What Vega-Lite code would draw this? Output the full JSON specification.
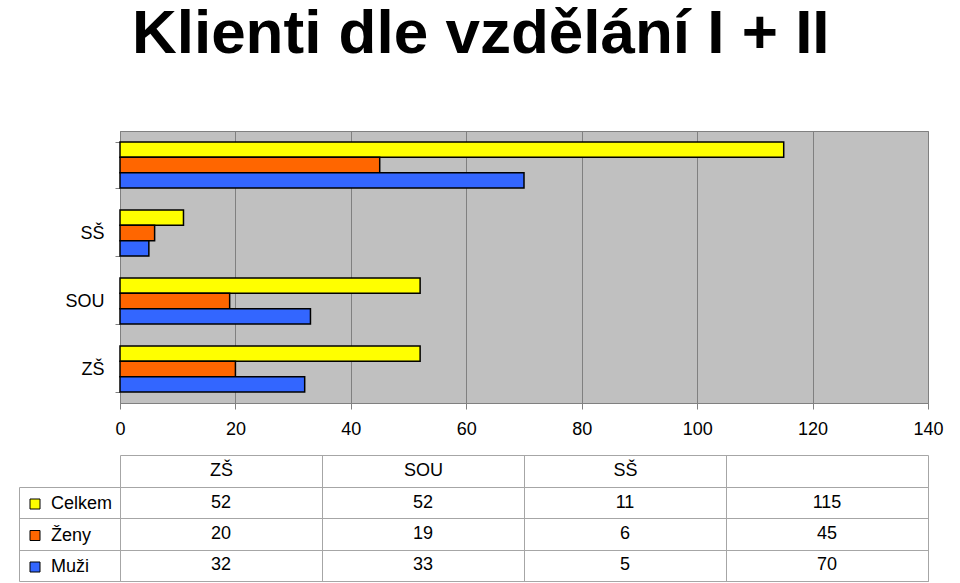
{
  "$schema": "https://vega.github.io/schema/vega-lite/v6.json",
  "padding": {"left": 18, "top": 2, "right": 0, "bottom": 0},
  "background": "#ffffff",
  "title": {"text": "Klienti dle vzdělání I + II", "fontSize": 62, "font": "Liberation Sans", "fontWeight": "bold", "color": "#000000", "anchor": "middle", "offset": 53, "dy": -3},
  "config": {"font": "Liberation Sans", "view": {"stroke": null}},
  "data": {"values": [
    {"skupina": "ZŠ", "pohlavi": "Celkem", "pocet": 52},
    {"skupina": "ZŠ", "pohlavi": "Ženy", "pocet": 20},
    {"skupina": "ZŠ", "pohlavi": "Muži", "pocet": 32},
    {"skupina": "SOU", "pohlavi": "Celkem", "pocet": 52},
    {"skupina": "SOU", "pohlavi": "Ženy", "pocet": 19},
    {"skupina": "SOU", "pohlavi": "Muži", "pocet": 33},
    {"skupina": "SŠ", "pohlavi": "Celkem", "pocet": 11},
    {"skupina": "SŠ", "pohlavi": "Ženy", "pocet": 6},
    {"skupina": "SŠ", "pohlavi": "Muži", "pocet": 5},
    {"skupina": "celkem", "pohlavi": "Celkem", "pocet": 115},
    {"skupina": "celkem", "pohlavi": "Ženy", "pocet": 45},
    {"skupina": "celkem", "pohlavi": "Muži", "pocet": 70}
  ]},
  "bounds": "flush",
  "spacing": 84,
  "resolve": {"legend": {"color": "independent"}},
  "vconcat": [
    {
      "width": 808,
      "height": 272,
      "view": {"fill": "#C0C0C0", "stroke": "#808080"},
      "mark": {"type": "bar", "stroke": "#000000", "strokeWidth": 1.5},
      "encoding": {
        "y": {"field": "skupina", "type": "nominal", "sort": ["celkem", "SŠ", "SOU", "ZŠ"],
          "scale": {"paddingInner": 0.32, "paddingOuter": 0.16},
          "axis": {"title": null, "labelExpr": "datum.value === 'celkem' ? '' : datum.value", "labelFontSize": 18, "labelColor": "#000000", "labelPadding": 11, "tickBand": "extent", "tickSize": 5, "tickColor": "#808080", "domainColor": "#808080", "grid": false}},
        "yOffset": {"field": "pohlavi", "type": "nominal", "sort": ["Celkem", "Ženy", "Muži"], "scale": {"paddingInner": 0, "paddingOuter": 0}},
        "x": {"field": "pocet", "type": "quantitative", "scale": {"domain": [0, 140], "nice": false},
          "axis": {"title": null, "values": [0, 20, 40, 60, 80, 100, 120, 140], "grid": true, "gridColor": "#808080", "gridOpacity": 1, "labelFontSize": 18, "labelColor": "#000000", "labelFlush": false, "tickColor": "#808080", "tickSize": 6, "domainColor": "#808080", "labelPadding": 11}},
        "color": {"field": "pohlavi", "type": "nominal",
          "scale": {"domain": ["Celkem", "Ženy", "Muži"], "range": ["#FFFF00", "#FF6600", "#3366FF"]},
          "legend": {"orient": "none", "legendX": -94, "legendY": 364, "title": null, "symbolType": "square", "symbolSize": 100, "symbolStrokeColor": "#000000", "symbolStrokeWidth": 1, "symbolOpacity": 1, "labelFontSize": 18, "labelColor": "#000000", "labelOffset": 7, "rowPadding": 13.5, "padding": 0}}
      }
    },
    {
      "width": 808,
      "height": 94,
      "view": {"fill": "#ffffff", "stroke": "#A6A6A6"},
      "mark": {"type": "text", "fontSize": 18, "color": "#000000"},
      "encoding": {
        "x": {"field": "skupina", "type": "nominal", "sort": ["ZŠ", "SOU", "SŠ", "celkem"],
          "scale": {"type": "band", "paddingInner": 0, "paddingOuter": 0},
          "axis": {"orient": "top", "title": null, "labelExpr": "datum.value === 'celkem' ? '' : datum.value", "labelAngle": 0, "labelFontSize": 18, "labelColor": "#000000", "labelBaseline": "middle", "offset": 32, "tickSize": -32, "labelPadding": 17, "tickBand": "extent", "tickColor": "#A6A6A6", "domainColor": "#A6A6A6", "grid": true, "gridColor": "#A6A6A6", "gridOpacity": 1}},
        "y": {"field": "pohlavi", "type": "nominal", "sort": ["Celkem", "Ženy", "Muži"],
          "scale": {"type": "band", "paddingInner": 0, "paddingOuter": 0},
          "axis": {"title": null, "labels": false, "offset": 101, "tickSize": -101, "tickBand": "extent", "tickColor": "#A6A6A6", "domainColor": "#A6A6A6", "grid": true, "gridColor": "#A6A6A6", "gridOpacity": 1}},
        "text": {"field": "pocet", "type": "quantitative"}
      }
    }
  ]
}
